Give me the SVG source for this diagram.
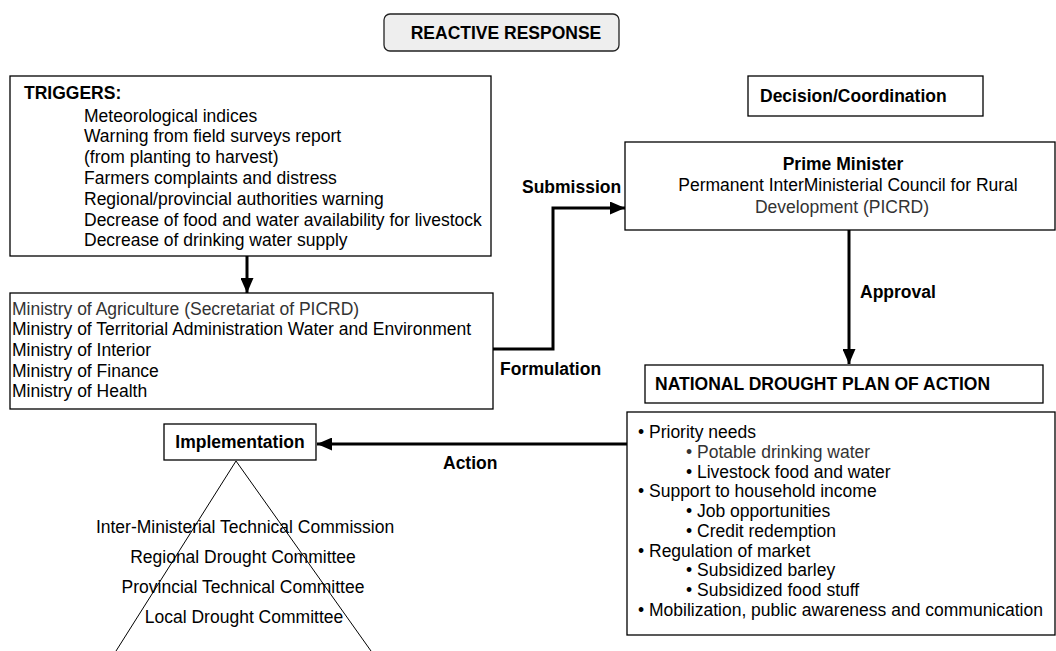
<svg xmlns="http://www.w3.org/2000/svg" width="1056" height="651" viewBox="0 0 1056 651">
<defs>
<style>
text{font-family:"Liberation Sans",Arial,sans-serif;font-size:17.5px;fill:#000}
.b{font-weight:bold}
.g{fill:#333}
.box{fill:#fff;stroke:#000;stroke-width:1.3}
.c{fill:none;stroke:#000;stroke-width:3}
.t{fill:none;stroke:#000;stroke-width:1}
</style>
<marker id="ah" viewBox="0 0 15 13" refX="15" refY="6.5" markerWidth="15" markerHeight="13" orient="auto" markerUnits="userSpaceOnUse">
<path d="M0,0 L15,6.5 L0,13 z" fill="#000"/>
</marker>
</defs>
<rect width="1056" height="651" fill="#fff"/>

<g id="reactive">
<rect x="384" y="14" width="235" height="37" rx="6" fill="#eeeeee" stroke="#222" stroke-width="1.3"/>
<text x="506" y="39" text-anchor="middle" class="b">REACTIVE RESPONSE</text>
</g>

<g id="triggers">
<rect class="box" x="10" y="76" width="481" height="180"/>
<text x="24" y="99" class="b">TRIGGERS:</text>
<text x="84" y="122">Meteorological indices</text>
<text x="84" y="142">Warning from field surveys report</text>
<text x="84" y="163">(from planting to harvest)</text>
<text x="84" y="184">Farmers complaints and distress</text>
<text x="84" y="205">Regional/provincial authorities warning</text>
<text x="84" y="226">Decrease of food and water availability for livestock</text>
<text x="84" y="246">Decrease of drinking water supply</text>
</g>

<g id="ministries">
<rect class="box" x="10" y="293" width="483" height="116"/>
<text x="12" y="315" class="g">Ministry of Agriculture (Secretariat of PICRD)</text>
<text x="12" y="335">Ministry of Territorial Administration Water and Environment</text>
<text x="12" y="356">Ministry of Interior</text>
<text x="12" y="377">Ministry of Finance</text>
<text x="12" y="397">Ministry of Health</text>
</g>

<g id="decision">
<rect class="box" x="748" y="76" width="235" height="40"/>
<text x="760" y="102" class="b">Decision/Coordination</text>
</g>

<g id="primeminister">
<rect class="box" x="625" y="142" width="430" height="88"/>
<text x="843" y="170" text-anchor="middle" class="b">Prime Minister</text>
<text x="848" y="191" text-anchor="middle">Permanent InterMinisterial Council for Rural</text>
<text x="842" y="213" text-anchor="middle" class="g">Development (PICRD)</text>
</g>

<g id="plan">
<rect class="box" x="645" y="365" width="398" height="38"/>
<text x="655" y="390" class="b">NATIONAL DROUGHT PLAN OF ACTION</text>
</g>

<g id="actions">
<rect class="box" x="627" y="412" width="428" height="223"/>
<text x="638" y="438">• Priority needs</text>
<text x="686" y="458" class="g">• Potable drinking water</text>
<text x="686" y="478">• Livestock food and water</text>
<text x="638" y="497">• Support to household income</text>
<text x="686" y="517">• Job opportunities</text>
<text x="686" y="537">• Credit redemption</text>
<text x="638" y="557">• Regulation of market</text>
<text x="686" y="576">• Subsidized barley</text>
<text x="686" y="596">• Subsidized food stuff</text>
<text x="638" y="616">• Mobilization, public awareness and communication</text>
</g>

<g id="implementation">
<rect class="box" x="164" y="424" width="152" height="36"/>
<text x="240" y="448" text-anchor="middle" class="b">Implementation</text>
</g>

<g id="pyramid">
<polyline class="t" points="116,651 236,461 371,651"/>
<text x="245" y="533" text-anchor="middle">Inter-Ministerial Technical Commission</text>
<text x="243" y="563" text-anchor="middle">Regional Drought Committee</text>
<text x="243" y="593" text-anchor="middle">Provincial Technical Committee</text>
<text x="244" y="623" text-anchor="middle">Local Drought Committee</text>
</g>

<g id="connectors">
<line class="c" x1="247" y1="256" x2="247" y2="293" stroke-width="2.5" marker-end="url(#ah)"/>
<polyline class="c" points="493,349 553,349 553,208 625,208" marker-end="url(#ah)"/>
<line class="c" x1="849" y1="230" x2="849" y2="364" stroke-width="2.5" marker-end="url(#ah)"/>
<line class="c" x1="627" y1="444" x2="317" y2="444" stroke-width="2.5" marker-end="url(#ah)"/>
<text x="522" y="193" class="b">Submission</text>
<text x="500" y="375" class="b">Formulation</text>
<text x="860" y="298" class="b">Approval</text>
<text x="443" y="469" class="b">Action</text>
</g>
</svg>
